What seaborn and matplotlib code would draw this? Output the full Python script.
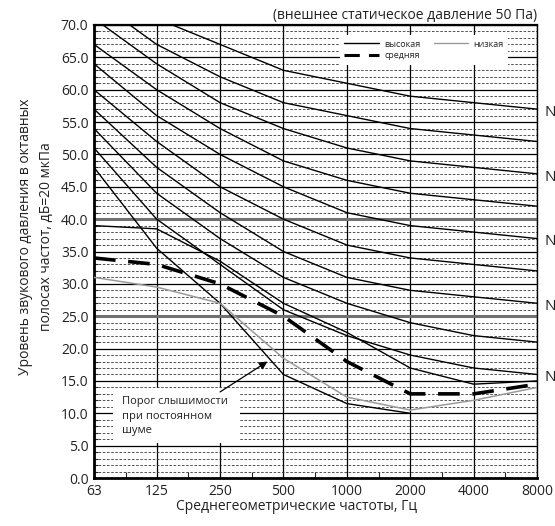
import matplotlib
matplotlib.use("Agg")
import matplotlib.pyplot as plt
import seaborn as sns
import numpy as np
from matplotlib.lines import Line2D
from matplotlib.patches import Rectangle
from matplotlib.ticker import FixedLocator, MultipleLocator, NullFormatter

# ===============================
# data
# ===============================
freqs = [63, 125, 250, 500, 1000, 2000, 4000, 8000]
freq_labels = ["63", "125", "250", "500", "1000", "2000", "4000", "8000"]

nc20 = [51, 40, 33, 26, 22, 19, 17, 16]
nc25 = [54, 44, 37, 31, 27, 24, 22, 21]
nc30 = [57, 48, 41, 35, 31, 29, 28, 27]
nc35 = [60, 52, 45, 40, 36, 34, 33, 32]
nc40 = [64, 56, 50, 45, 41, 39, 38, 37]
nc45 = [67, 60, 54, 49, 46, 44, 43, 42]
nc50 = [71, 64, 58, 54, 51, 49, 48, 47]
nc55 = [74, 67, 62, 58, 56, 54, 53, 52]
nc60 = [77, 71, 67, 63, 61, 59, 58, 57]

fan_high = [39, 38.5, 33.5, 27, 22.5, 17, 14.5, 15]
fan_mid = [34, 33, 30, 25, 18, 13, 13, 14.5]
fan_low = [31, 29.5, 27, 18.5, 12.5, 10.5, 12, 14]

threshold_freqs = [63, 125, 250, 500, 1000, 2000]
threshold = [48, 35.5, 27, 16, 11.5, 10]

nc_labels = ["NC-60", "NC-50", "NC-40", "NC-30", "NC-20"]

sns.set_theme(style="white")
plt.rcParams["font.family"] = ["Open Sans", "DejaVu Sans"]

fig = plt.figure(figsize=(5.55, 5.26), dpi=100)
ax = fig.add_axes([94 / 555, 1 - 478 / 526, 443 / 555, 453 / 526])

# ===============================
# grid
# ===============================
ax.set_xscale("log", base=2)
ax.set_xlim(63, 8000)
ax.set_ylim(0, 70)

ax.yaxis.set_major_locator(MultipleLocator(5))
ax.yaxis.set_minor_locator(MultipleLocator(1))
ax.set_yticklabels([f"{v:.1f}" for v in ax.get_yticks()])
ax.xaxis.set_major_locator(FixedLocator(freqs))
ax.xaxis.set_minor_locator(FixedLocator([f * np.sqrt(2) for f in freqs[:-1]]))
ax.xaxis.set_minor_formatter(NullFormatter())
ax.set_xticklabels(freq_labels)

ax.grid(which="minor", axis="y", color="#333333", lw=0.6, ls=(0, (3, 2)))
ax.grid(which="major", axis="y", color="black", lw=0.9)
ax.grid(which="major", axis="x", color="black", lw=0.9)
ax.set_axisbelow(True)
for yv in (25, 40):
    ax.axhline(yv, color="#707070", lw=2.2, zorder=1)

ax.tick_params(axis="both", which="major", length=0, labelsize=10, pad=4, colors="#222222")
ax.tick_params(axis="y", which="minor", direction="in", length=3, width=0.8, left=True)
ax.tick_params(axis="x", which="minor", direction="in", length=4, width=0.8, bottom=True)

for side, lw in (("left", 2.0), ("bottom", 2.0), ("top", 1.6), ("right", 1.0)):
    ax.spines[side].set_color("black")
    ax.spines[side].set_linewidth(lw)

# ===============================
# NC curves
# ===============================
nc_curves = [nc20, nc25, nc30, nc35, nc40, nc45, nc50, nc55, nc60]
for curve in nc_curves:
    sns.lineplot(x=freqs, y=curve, ax=ax, color="black", lw=1.0, zorder=3)

# labels run past the right edge, cut off as in the original
for name, curve in zip(nc_labels, [nc60, nc50, nc40, nc30, nc20]):
    ax.text(1.018, curve[-1] - 0.5, name, transform=ax.get_yaxis_transform(),
            fontsize=11, va="center", ha="left", color="#222222", clip_on=False)

# threshold
sns.lineplot(x=threshold_freqs, y=threshold, ax=ax, color="black", lw=1.0, zorder=3)

# fan curves
sns.lineplot(x=freqs, y=fan_low, ax=ax, color="#9a9a9a", lw=1.1, zorder=4)
sns.lineplot(x=freqs, y=fan_high, ax=ax, color="black", lw=1.0, zorder=4)
sns.lineplot(x=freqs, y=fan_mid, ax=ax, color="black", lw=2.6, zorder=5,
             linestyle=(0, (6, 3.5)))

# ===============================
# note box + arrow
# ===============================
ax.add_patch(Rectangle(((113 - 94) / 443, (478 - 443) / 453),
                       (240 - 113) / 443, (443 - 388) / 453,
                       transform=ax.transAxes, facecolor="white", edgecolor="none", zorder=2))
ax.text((122 - 94) / 443, (478 - 396) / 453, "Порог слышимости\nпри постоянном\nшуме",
        transform=ax.transAxes, fontsize=8, va="top", ha="left", linespacing=1.45,
        color="#222222", zorder=6)
ax.annotate("", xy=(420, 18.0), xytext=(250, 13.3),
            arrowprops=dict(arrowstyle="-|>", color="black", lw=0.9,
                            mutation_scale=12, shrinkA=0, shrinkB=0), zorder=6)

# ===============================
# legend
# ===============================
handles = [
    Line2D([], [], color="black", lw=1.0),
    Line2D([], [], color="black", lw=2.2, linestyle=(0, (5, 3))),
    Line2D([], [], color="#9a9a9a", lw=1.0),
]
leg = ax.legend(handles, ["высокая", "средняя", "низкая"], ncol=2, loc="center",
                bbox_to_anchor=(0.745, 0.945), fontsize=6.5, frameon=True,
                fancybox=False, framealpha=1, edgecolor="none", handlelength=3.8,
                columnspacing=1.5, handletextpad=0.6, labelspacing=0.3,
                borderpad=0.5)
leg.get_frame().set_facecolor("white")
leg.set_zorder(7)

# ===============================
# texts
# ===============================
ax.set_title("(внешнее статическое давление 50 Па)", fontsize=10, loc="right",
             pad=4, color="#222222")
fig.text(296 / 555, 1 - 506 / 526, "Среднегеометрические частоты, Гц",
         ha="center", va="center", fontsize=10, color="#222222")
fig.text(36 / 555, 0.55, "Уровень звукового давления в октавных\nполосах частот, дБ=20 мкПа",
         rotation=90, ha="center", va="center", fontsize=10, color="#222222",
         multialignment="center", linespacing=1.5)

fig.savefig("out.png", dpi=100)
plt.close(fig)
